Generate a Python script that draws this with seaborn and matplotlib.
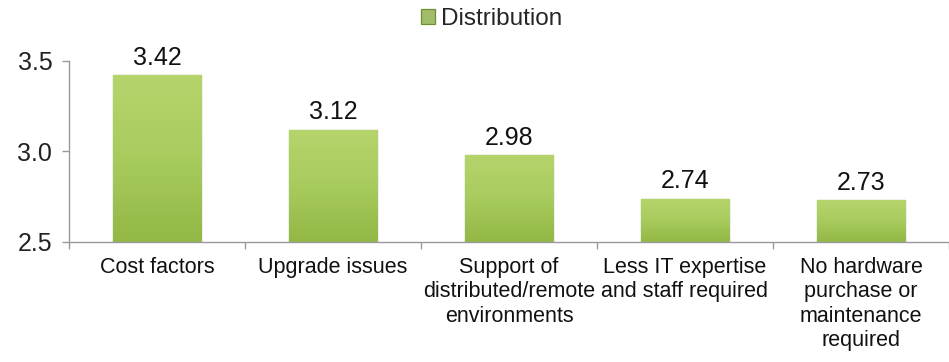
import numpy as np
import pandas as pd
import matplotlib.pyplot as plt
import seaborn as sns
from matplotlib.ticker import FixedLocator
from matplotlib.colors import LinearSegmentedColormap

categories = [
    "Cost factors",
    "Upgrade issues",
    "Support of\ndistributed/remote\nenvironments",
    "Less IT expertise\nand staff required",
    "No hardware\npurchase or\nmaintenance\nrequired",
]
values = [3.42, 3.12, 2.98, 2.74, 2.73]
series_name = "Distribution"

sns.set_theme(style="white")
plt.rcParams['font.family'] = ['Liberation Sans', 'DejaVu Sans']

df = pd.DataFrame({"category": categories, "value": values})

fig = plt.figure(figsize=(9.49, 3.62), dpi=100)
ax = fig.add_axes([0.0727, 0.3315, 0.9273, 0.50])

sns.barplot(data=df, x="category", y="value", color="#a6ca5c", width=0.5,
            edgecolor="#6f8f30", linewidth=0.9, label=series_name, ax=ax)

ax.set_ylim(2.5, 3.5)
ax.set_xlim(-0.5, len(categories) - 0.5)

# soft vertical gradient inside each bar
grad = LinearSegmentedColormap.from_list("g", ["#93b845", "#a8cb5e", "#b6d46c"])
for p in ax.patches:
    x0, w, h = p.get_x(), p.get_width(), p.get_height()
    im = ax.imshow(np.linspace(0, 1, 100).reshape(-1, 1), cmap=grad,
                   extent=(x0, x0 + w, 2.5, h), origin="lower", aspect="auto",
                   zorder=p.get_zorder() + 0.1)
    im.set_clip_path(p)
ax.set_aspect("auto")
ax.set_xlim(-0.5, len(categories) - 0.5)
ax.set_ylim(2.5, 3.5)

ax.set_yticks([2.5, 3.0, 3.5])
ax.set_yticklabels(["2.5", "3.0", "3.5"], fontsize=18, color="#222222")
ax.tick_params(axis="x", length=0, labelsize=15.5, labelcolor="#111111", pad=11)
ax.xaxis.set_minor_locator(FixedLocator([i - 0.5 for i in range(len(categories) + 1)]))
ax.tick_params(axis="x", which="minor", length=5, color="#999999", bottom=True, width=1)
ax.tick_params(axis="y", length=5, color="#999999", left=True, width=1, pad=7)
ax.set_xlabel("")
ax.set_ylabel("")

for s in ["top", "right"]:
    ax.spines[s].set_visible(False)
for s in ["left", "bottom"]:
    ax.spines[s].set_color("#999999")
    ax.spines[s].set_linewidth(1)

for p, v in zip(ax.patches, values):
    ax.annotate(f"{v:.2f}", (p.get_x() + p.get_width() / 2, p.get_height()),
                ha="center", va="bottom", xytext=(0, 4), textcoords="offset points",
                fontsize=18, color="#111111", annotation_clip=False)

fig.legend(handles=ax.patches[:1], labels=[series_name], loc="center",
           bbox_to_anchor=(0.518, 0.947), frameon=False, fontsize=17.5,
           handlelength=0.6, handleheight=0.6, handletextpad=0.25)
if ax.get_legend():
    ax.get_legend().remove()

fig.savefig("out.png", dpi=100)
